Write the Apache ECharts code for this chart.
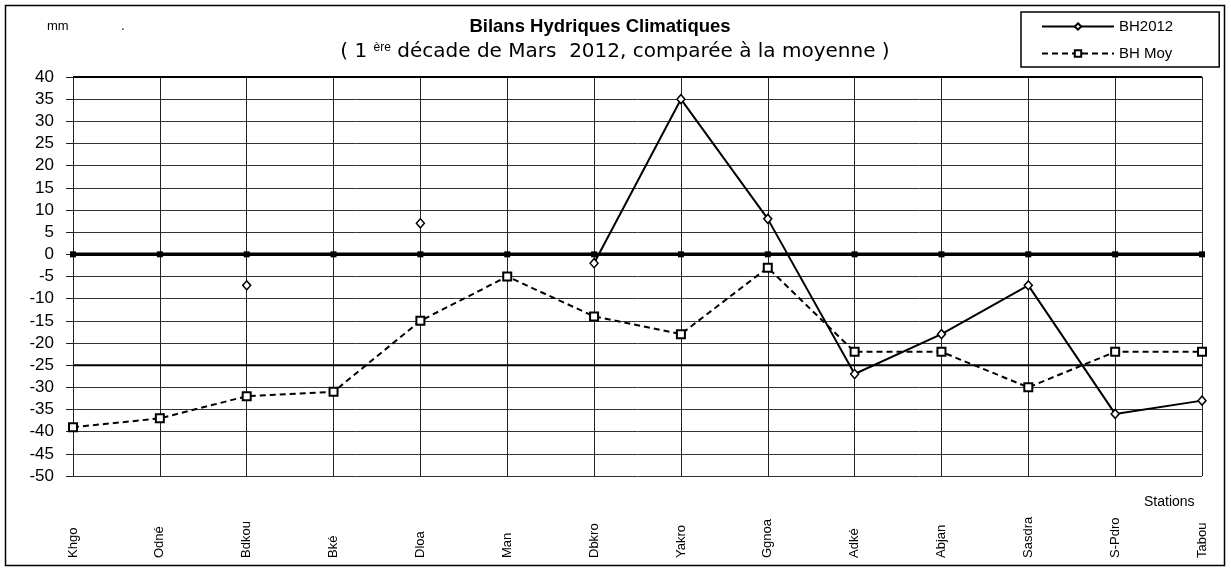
<!DOCTYPE html>
<html>
<head>
<meta charset="utf-8">
<script src="https://cdn.jsdelivr.net/npm/echarts@6/dist/echarts.min.js"></script>
<style>
  html, body { margin: 0; padding: 0; background: #fff; }
  #main { width: 1231px; height: 570px; }
</style>
</head>
<body>
<div id="main"></div>
<script>
var stations = ['Khgo', 'Odné', 'Bdkou', 'Bké', 'Dloa', 'Man', 'Dbkro', 'Yakro', 'Ggnoa', 'Adké', 'Abjan', 'Sasdra', 'S-Pdro', 'Tabou'];
// BH2012 : pas de valeur pour certaines stations
var bh2012 = [null, null, -7, null, 7, null, -2, 35, 8, -27, -18, -7, -36, -33];
var bhMoy = [-39, -37, -32, -31, -15, -5, -14, -18, -3, -22, -22, -30, -22, -22];
var zeroLine = [0, 0, 0, 0, 0, 0, 0, 0, 0, 0, 0, 0, 0, 0];
var seuilLine = [-25, -25, -25, -25, -25, -25, -25, -25, -25, -25, -25, -25, -25, -25];
var yTicks = { min: -50, max: 40, step: 5 };

var myChart = echarts.init(document.getElementById('main'));
var font = '"Liberation Sans", Arial, sans-serif';
var wide = '"DejaVu Sans", "Liberation Sans", sans-serif';
var narrow = '"Liberation Sans Narrow", "Arial Narrow", "Liberation Sans", sans-serif';

var option = {
    animation: false,
    backgroundColor: '#fff',
    title: [{
        text: 'Bilans Hydriques Climatiques',
        left: 595, top: 12, textAlign: 'center',
        textStyle: { fontFamily: font, fontSize: 18.5, fontWeight: 'bold', color: '#000' }
    }, {
        text: '( 1 {sup|ère} décade de Mars  2012, comparée à la moyenne )',
        left: 610, top: 37, textAlign: 'center',
        textStyle: {
            fontFamily: wide, fontSize: 20, fontWeight: 'normal', color: '#000',
            rich: {
                sup: { fontFamily: font, fontSize: 12, color: '#000', verticalAlign: 'top', padding: [0, 0, 8, 0] }
            }
        }
    }],
    legend: {
        data: ['BH2012', 'BH Moy'],
        orient: 'vertical',
        left: 1021, top: 12,
        padding: [7, 46, 6, 20],
        itemGap: 12,
        itemWidth: 72, itemHeight: 8,
        borderColor: '#000', borderWidth: 1.5,
        textStyle: { fontFamily: narrow, fontSize: 15, color: '#000' }
    },
    grid: { left: 73, right: 29, top: 77, bottom: 94, containLabel: false },
    xAxis: {
        type: 'category',
        data: stations,
        boundaryGap: false,
        axisLine: { show: true, lineStyle: { color: '#222', width: 1 } },
        axisTick: { show: false },
        splitLine: { show: true, lineStyle: { color: '#222', width: 1 } },
        axisLabel: {
            rotate: 90, align: 'left', verticalAlign: 'middle', margin: 82,
            interval: 0,
            fontFamily: narrow, fontSize: 13, color: '#000'
        }
    },
    yAxis: {
        type: 'value',
        min: yTicks.min, max: yTicks.max, interval: yTicks.step,
        axisLine: { show: true, lineStyle: { color: '#222', width: 1 } },
        axisTick: { show: true, length: 7, lineStyle: { color: '#222' } },
        splitLine: { show: true, lineStyle: { color: '#333', width: 1 } },
        axisLabel: { margin: 19, fontFamily: font, fontSize: 17, color: '#000' }
    },
    series: [{
        name: 'zero',
        type: 'line',
        data: zeroLine,
        symbol: 'rect', symbolSize: 6,
        itemStyle: { color: '#000' },
        lineStyle: { color: '#000', width: 3.5 },
        z: 3
    }, {
        name: 'seuil',
        type: 'line',
        data: seuilLine,
        symbol: 'none',
        lineStyle: { color: '#000', width: 2 },
        z: 3
    }, {
        name: 'BH2012',
        type: 'line',
        data: bh2012,
        connectNulls: false,
        symbol: 'diamond', symbolSize: [8, 9],
        showAllSymbol: true,
        itemStyle: { color: '#fff', borderColor: '#000', borderWidth: 1.5 },
        lineStyle: { color: '#000', width: 2, type: 'solid' },
        z: 5
    }, {
        name: 'BH Moy',
        type: 'line',
        data: bhMoy,
        symbol: 'rect', symbolSize: 8,
        showAllSymbol: true,
        itemStyle: { color: '#fff', borderColor: '#000', borderWidth: 2 },
        lineStyle: { color: '#000', width: 2, type: [6, 4] },
        z: 4
    }],
    graphic: [{
        type: 'rect',
        shape: { x: 5.5, y: 5.5, width: 1219, height: 560 },
        style: { fill: null, stroke: '#000', lineWidth: 1.5 },
        z: 0
    }, {
        type: 'text',
        left: 47, top: 20,
        style: { text: 'mm', fontFamily: font, fontSize: 13, fill: '#000' }
    }, {
        type: 'text',
        left: 121, top: 20,
        style: { text: '.', fontFamily: font, fontSize: 13, fill: '#000' }
    }, {
        type: 'text',
        left: 1144, top: 495,
        style: { text: 'Stations', fontFamily: narrow, fontSize: 14, fill: '#000' }
    }, {
        // trait épais en haut du graphe
        type: 'line',
        shape: { x1: 73, y1: 77, x2: 1202, y2: 77 },
        style: { stroke: '#000', lineWidth: 2 },
        z: 10
    }]
};
myChart.setOption(option);
</script>
</body>
</html>
